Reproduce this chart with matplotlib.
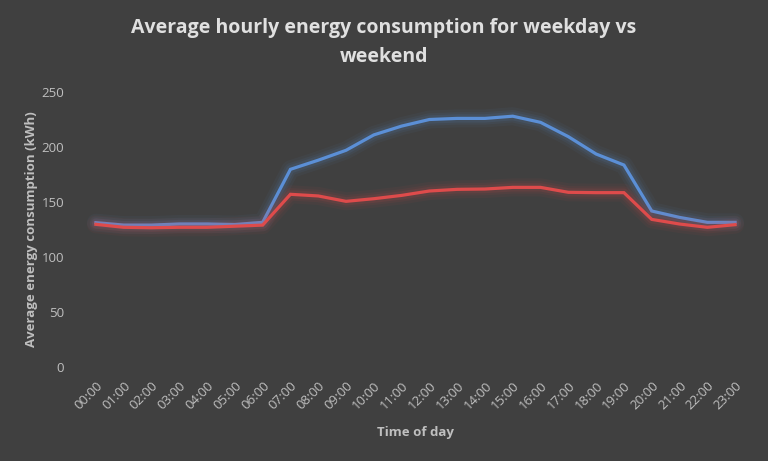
import matplotlib
matplotlib.use("Agg")
import matplotlib.pyplot as plt

hours = [f"{h:02d}:00" for h in range(24)]
weekday = [131.2, 129, 129, 130, 130, 129.5, 131.5, 179.7, 188, 197, 211, 219,
           225, 226, 226, 228, 222.4, 209.4, 193.6, 183.6, 141.8, 136, 131.5, 131.5]
weekend = [129.7, 127, 126.6, 127, 127, 128, 129, 157, 155.5, 150.6, 153, 156,
           160, 161.5, 161.8, 163.3, 163.3, 158.8, 158.5, 158.5, 134.2, 130, 127, 129.4]

bg = "#404040"
fig = plt.figure(figsize=(7.68, 4.61), dpi=100, facecolor=bg)
ax = fig.add_axes([82/768, 1-367/461, (749-82)/768, (367-92)/461], facecolor=bg)

x = list(range(24))
for vals, col in [(weekday, "#5B8FD6"), (weekend, "#DE4B4B")]:
    for lw, a in [(13, 0.05), (9, 0.07), (6, 0.10)]:
        ax.plot(x, vals, color=col, lw=lw, alpha=a, solid_capstyle="round",
                solid_joinstyle="round")
    ax.plot(x, vals, color=col, lw=2.3, solid_joinstyle="miter")

ax.set_xlim(-0.5, 23.5)
ax.set_ylim(0, 250)
ax.set_yticks([0, 50, 100, 150, 200, 250])
ax.set_xticks(x)
ax.set_xticklabels(hours, rotation=45, ha="right", rotation_mode="anchor")
for s in ax.spines.values():
    s.set_visible(False)
ax.tick_params(length=0, colors="#BFBFBF", labelsize=9.5)
ax.tick_params(axis="y", pad=13)
ax.tick_params(axis="x", pad=9)
for lab in ax.get_xticklabels() + ax.get_yticklabels():
    lab.set_fontfamily("Open Sans")
    lab.set_color("#BFBFBF")

ax.set_xlabel("Time of day", color="#BFBFBF", fontsize=9.5, fontweight="bold",
              fontfamily="Open Sans", labelpad=10)
ax.set_ylabel("Average energy consumption (kWh)", color="#BFBFBF", fontsize=9.5,
              fontweight="bold", fontfamily="Open Sans", labelpad=2)

fig.text(0.5, 1-43/461, "Average hourly energy consumption for weekday vs\nweekend",
         ha="center", va="center", color="#E0E0E0", fontsize=14,
         fontweight="bold", fontfamily="Open Sans", linespacing=1.6)

fig.savefig("out.png", dpi=100, facecolor=bg)
